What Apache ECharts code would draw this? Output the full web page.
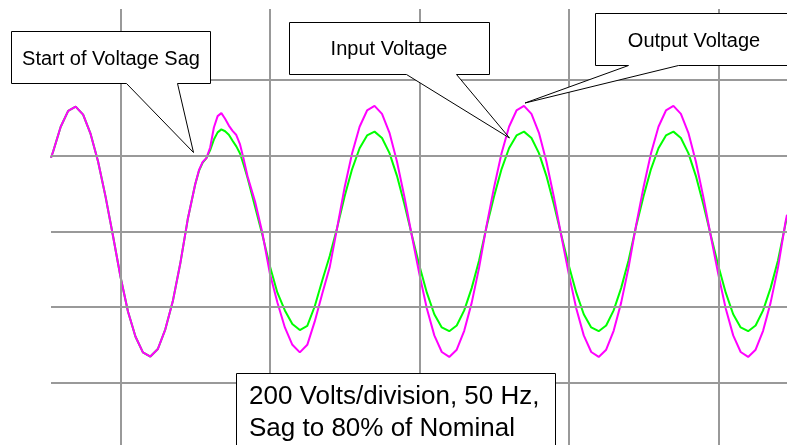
<!DOCTYPE html>
<html>
<head>
<meta charset="utf-8">
<script src="https://cdn.jsdelivr.net/npm/echarts@6/dist/echarts.min.js"></script>
<style>
  html, body { margin: 0; padding: 0; background: #ffffff; }
  #chart { width: 787px; height: 445px; }
</style>
</head>
<body>
<div id="chart"></div>
<script>
// Time in milliseconds (0 = first vertical division line), 20 ms per division
const timeMs = [-9.3, -9, -8, -7, -6, -5, -4, -3, -2, -1, 0, 1, 2, 3, 4, 5, 6, 7, 8, 9, 10,
  10.5, 11, 11.5, 12, 12.5, 13, 13.5, 14, 14.5, 15, 15.5, 16, 16.5, 17,
  18, 19, 20, 21, 22, 23, 24, 25, 26, 27, 28,
  29, 30, 31, 32, 33, 34, 35, 36, 37, 38, 39, 40, 41, 42, 43, 44, 45, 46, 47, 48,
  49, 50, 51, 52, 53, 54, 55, 56, 57, 58, 59, 60, 61, 62, 63, 64, 65, 66, 67, 68,
  69, 70, 71, 72, 73, 74, 75, 76, 77, 78, 79, 80, 81, 82, 83, 84, 85, 86, 87, 88,
  89, 89.2];

// Output voltage (magenta), volts
const outputVolts = [195, 212, 277, 319, 330, 309, 258, 185, 92, -12, -120, -212, -278, -320, -331, -311, -259, -185, -85, 32, 125,
  162, 184, 194, 222, 275, 305, 313, 298, 280, 266, 255, 230, 190, 146,
  80, -5, -112, -188, -254, -300, -320, -300, -238, -165, -95,
  10, 117, 207, 277, 320, 332, 311, 261, 185, 91, -12, -113, -204, -275, -319, -332, -313, -263, -189, -95,
  16, 117, 207, 277, 320, 332, 311, 261, 185, 91, -12, -113, -204, -275, -319, -332, -313, -263, -189, -95,
  16, 117, 207, 277, 320, 332, 311, 261, 185, 91, -12, -113, -204, -275, -319, -332, -313, -263, -189, -95,
  25, 44];

// Input voltage (green), volts - sags to 80% after ~10 ms
const inputVolts = [195, 212, 277, 319, 330, 309, 258, 185, 92, -12, -120, -212, -278, -320, -331, -311, -259, -185, -85, 32, 125,
  160, 182, 194, 215, 243, 262, 270, 265, 256, 240, 225, 206, 175, 142,
  66, -10, -92, -162, -209, -245, -261, -250, -198, -130, -65,
  10, 93, 165, 220, 254, 264, 247, 207, 147, 72, -10, -90, -162, -219, -254, -264, -249, -209, -150, -76,
  13, 93, 165, 220, 254, 264, 247, 207, 147, 72, -10, -90, -162, -219, -254, -264, -249, -209, -150, -76,
  13, 93, 165, 220, 254, 264, 247, 207, 147, 72, -10, -90, -162, -219, -254, -264, -249, -209, -150, -76,
  20, 35];

// Division lines
const timeDivisions = [0, 20, 40, 60, 80];
const voltDivisions = [-400, -200, 0, 200, 400];

// Annotation texts
const sagLabel = 'Start of Voltage Sag';
const inputLabel = 'Input Voltage';
const outputLabel = 'Output Voltage';
const infoLabel = '200 Volts/division, 50 Hz,\nSag to 80% of Nominal';

const chart = echarts.init(document.getElementById('chart'), null, { renderer: 'canvas' });
const FONT = '"Liberation Sans", Arial, sans-serif';
const gridColor = '#999999';

const divisionLines = []
  .concat(timeDivisions.map(t => ({ xAxis: t })))
  .concat(voltDivisions.map(v => ({ yAxis: v })));

function bubble(points) {
  return {
    type: 'polygon',
    silent: true,
    z: 100,
    shape: { points: points },
    style: { fill: '#ffffff', stroke: '#000000', lineWidth: 1 }
  };
}
function label(text, x, y, size, align) {
  return {
    type: 'text',
    silent: true,
    z: 101,
    x: x, y: y,
    style: {
      text: text, fill: '#000000',
      font: size + 'px ' + FONT,
      align: align, verticalAlign: 'middle',
      lineHeight: 32
    }
  };
}

chart.setOption({
  animation: false,
  backgroundColor: '#ffffff',
  grid: { left: 51, right: 0, top: 9, bottom: 0, containLabel: false },
  xAxis: {
    type: 'value', min: -9.3, max: 89.2,
    axisLine: { show: false }, axisTick: { show: false }, axisLabel: { show: false },
    splitLine: { show: false }
  },
  yAxis: {
    type: 'value', min: -565, max: 588.4,
    axisLine: { show: false }, axisTick: { show: false }, axisLabel: { show: false },
    splitLine: { show: false }
  },
  series: [
    {
      name: 'divisions', type: 'line', data: [], z: 1, silent: true,
      markLine: {
        silent: true, symbol: 'none', animation: false,
        label: { show: false },
        lineStyle: { color: gridColor, width: 2, type: 'solid' },
        emphasis: { disabled: true },
        data: divisionLines
      }
    },
    {
      name: 'Input Voltage', type: 'line', z: 2,
      data: timeMs.map((t, i) => [t, inputVolts[i]]),
      showSymbol: false, smooth: false, silent: true,
      lineStyle: { color: '#00ff00', width: 2 }
    },
    {
      name: 'Output Voltage', type: 'line', z: 3,
      data: timeMs.map((t, i) => [t, outputVolts[i]]),
      showSymbol: false, smooth: false, silent: true,
      lineStyle: { color: '#ff00ff', width: 2 }
    }
  ],
  graphic: [
    bubble([[11.5, 31.5], [210.5, 31.5], [210.5, 83.5], [177.5, 83.5], [193.5, 152.5], [126.5, 83.5], [11.5, 83.5]]),
    label(sagLabel, 111, 59, 20, 'center'),
    bubble([[289.5, 22.5], [489.5, 22.5], [489.5, 74.5], [456.5, 74.5], [509.5, 138], [406.5, 74.5], [289.5, 74.5]]),
    label(inputLabel, 389, 49.5, 20, 'center'),
    bubble([[595.5, 13.5], [795, 13.5], [795, 65.5], [678.5, 65.5], [525, 103], [628.5, 65.5], [595.5, 65.5]]),
    label(outputLabel, 694, 41, 20, 'center'),
    bubble([[236.5, 373.5], [555.5, 373.5], [555.5, 470], [236.5, 470]]),
    label(infoLabel, 249, 412.5, 26, 'left')
  ]
});
</script>
</body>
</html>
